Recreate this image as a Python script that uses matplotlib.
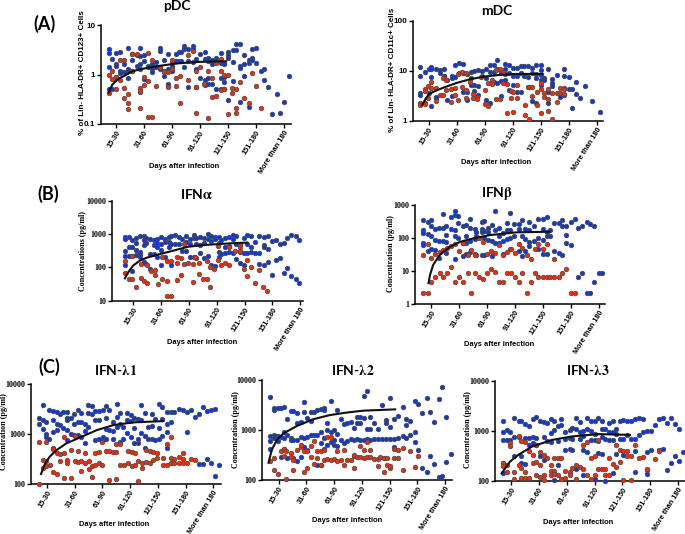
# -*- coding: utf-8 -*-

import matplotlib
matplotlib.use('Agg')
import matplotlib.pyplot as plt

plt.rcParams['mathtext.fontset'] = 'stix'

W, H = 685, 534

BLUE = '#1239cf'
RED = '#e5300f'
EDGE = '#4a4a4a'

x_ticks = [30, 60, 90, 120, 150, 180, 210]
x_labels = ['15-30', '31-60', '61-90', '91-120', '121-150', '151-180', 'More than 180']

# (day, [values of the dots in that column])
pdc_blue = [(22, [3.3, 2.7, 1.4, .5]), (26, [2.1, .5]), (30, [2.7, 1.6, 1.5, .9]), (34, [2.8, 1.15, 1.05]), (39, [1.1, 1.6]),
            (43, [3.4, 1.3, 1.2, .85]), (47, [2.6, 2, 1.2]), (52, [2.5, 1.5]), (56, [3.5, 2.4, 1.6, 1.3, .45]), (60, [2.5, 1.9, .8]),
            (64, [1.4, 1.5]), (69, [1.6, 1.3, 1.1]), (73, [1.8, 1.4]), (77, [3.4, 3, 1.3]), (81, [2, 1.2, .95]), (86, [2.6, 1.3, .65, .58]),
            (90, [1.2, 1.8, 1.5]), (94, [2.6, 1.9]), (98, [2.9, 1.9]), (100, [2.9, 1.9]), (103, [3.8, 3.2, 1.4]), (107, [3.2, 1.9, .56]),
            (112, [3.8, 3.2, 1.8]), (116, [2.1, 1.3, .56]), (120, [2.6, .84]), (125, [2.8, 2.1, .76, .6]), (129, [2.2, 1.9, .84, .65]),
            (133, [2, 1.6, .65]), (137, [2.2, 1.9, .52]), (142, [2.7, 2, 1.7, .85, .5]), (146, [1.7, 1.6, .72, .88, .5]), (150, [2.8, 2.5, 2.2, .31]),
            (155, [3.1, 1.8, .74]), (159, [4.2, 3.1]), (163, [4.2, 1.5, 1.34, .28]), (167, [2.5, 1.6, .94]), (172, [2, 1.7, .22]),
            (176, [3.2, 2.2, 2]), (180, [3.5, 1.7]), (185, [1.2]), (189, [1.3, .76]), (193, [.55]), (197, [.16]), (202, [.41]),
            (206, [.17]), (210, [.28]), (215, [.94])]
pdc_red = [(22, [.97, .43]), (26, [1.15, .8]), (30, [.88, .5]), (34, [2, .78]), (39, [2, .53, .33]), (43, [.4, .26, .2]), (47, [2.6, 1.2]),
           (52, [2.6]), (56, [.53, .47, .21]), (60, [.87, .6]), (64, [2.7, .75, .14]), (69, [2, .14]), (73, [.58]), (77, [1.4]), (81, [1.1]),
           (86, [1.1, .55]), (90, [2, 1.3]), (94, [.59, .85]), (99, [.94, .26]), (107, [2.5, .78]), (112, [3]), (116, [1.15, .55, .17]),
           (120, [1.45]), (124, [.65]), (129, [1.15, .13]), (133, [.84, .35]), (137, [1.7, .36]), (142, [2.1, 1.15, .48]), (146, [1, .5]),
           (150, [.98, .16]), (154, [.53, .42]), (159, [.5, .21, .17]), (163, [.69]), (167, [.34]), (172, [.26]), (176, [1.06]),
           (180, [.59]), (185, [.21])]
pdc_curve_day = [22, 26, 30, 34, 39, 47, 56, 64, 77, 90, 99, 120, 135, 148]
pdc_curve_val = [.43, .62, .74, .85, .94, 1.15, 1.28, 1.36, 1.5, 1.62, 1.7, 1.8, 1.83, 1.85]

mdc_blue = [(21, [12, 7.7, 3.6, 3.3]), (26, [9.6, 2.3]), (30, [10.8, 3.5]), (33, [12, 11, 7.6, 2]), (38, [11, 3, 2.9]), (42, [10.5, 9.2]),
            (46, [10.6, 8, 7.8]), (50, [6.6, 2.6]), (55, [7.8, 7, 3.1]), (58, [13, 7.5]), (62, [14.5, 9]), (67, [13.5, 3.7, 9.2]), (71, [8.5, 3.7, 2.6]),
            (75, [9.5, 7, 5.2]), (79, [10, 5.2, 4]), (83, [10.3, 5, 3.2]), (87, [10, 8]), (91, [11, 7, 2.6]), (96, [13, 9.5, 2.3]), (100, [13, 9.6, 6]),
            (103, [16.5, 11, 5.7]), (107, [9.5, 6.2, 3.1]), (112, [13.5, 11, 8.6, 6.5]), (116, [13, 9, 4.1]), (120, [11.5, 8, 5.2]), (125, [11.5, 8, 3.8]),
            (129, [12.5, 9, 3.7]), (132, [12.5, 8]), (136, [12.5, 7.5, 4.8]), (141, [11.5, 9, 2.5]), (145, [13, 8.5, 7.3, 2.3]),
            (150, [13, 10.3, 8.3, 6.5, 5.2]), (154, [7, 6.5]), (158, [10.6, 3.8, 2.3]), (162.5, [6.8, 5.6, 5]), (167, [8.3]), (171, [3]),
            (175, [10.6, 7.7, 4.6, 3.3]), (180, [7.4, 4.4]), (184, [4.4, 1.8]), (188, [6, 3.4]), (192.5, [2.8]), (197, [4.9]), (205, [2.5]), (213.5, [1.5])]
mdc_red = [(21, [2.3, 2.1]), (26, [4.4, 4, 2.2]), (29.5, [5, 2.9]), (33, [6, 4.6]), (38, [4.6, 2.5]), (42, [3.3]), (45, [7.2, 3.3]), (49, [6.6, 4.2]),
           (54, [4.3, 2.4]), (58, [4.5, 3.3]), (61, [8.5, 2.6]), (66, [9.6, 4.7]), (70, [8.8, 4.1, 2.8]), (74, [6]), (77, [3.4, 2.9]), (82, [3, 2.7]),
           (86, [7.5]), (90, [4.2, 2.2]), (94, [5.7, 2]), (98, [6.5, 5.3]), (102, [10.5, 2.7]), (106, [11, 2.7]), (110, [9.6, 5.7]), (114, [5.5, 1.4]),
           (118, [3.9, 2.9]), (120, [1.5, 3.7]), (125, [5.2, 2.8]), (133, [2.05, 1.3]), (137, [4.7, 1.1]), (141, [4.8, 3.1]), (146, [3.8, 2.05]),
           (150, [5.7, 4.4, 1.45]), (154, [3.5, 3]), (158, [4.4, 2.7, 1.55]), (162.5, [3.6, 1.1]), (167, [3.6, 2.4]), (171, [3.6, 4.5]), (175, [4.4, 3.4])]
mdc_curve_day = [23, 27, 31, 38, 46, 60, 75, 89, 105, 121, 152]
mdc_curve_val = [2.05, 2.8, 3.5, 4.0, 4.6, 5.7, 6.8, 7.6, 8.2, 8.6, 8.6]

alpha_blue = [(21, [800, 720, 320, 215, 115]), (25.5, [850, 420, 220]), (29, [650, 400, 220, 80]), (33, [750, 560, 330, 230]), (37, [870, 300, 250, 200]),
              (41, [880, 650, 480, 150]), (44, [780, 560, 130]), (48, [700, 260, 92]), (52.5, [650, 480, 250]), (56, [700, 530, 410, 210]),
              (60, [840, 520, 330, 120]), (64, [740, 580, 210]), (68, [850, 590, 400]), (71, [870, 520, 120]), (75, [940, 500]), (79.5, [800, 520]),
              (83, [700, 310]), (87, [880, 600, 320]), (91, [700, 500, 210]), (95, [920, 780, 210]), (98, [780, 500, 190]), (102, [800, 480, 280]),
              (106.5, [780, 560, 190]), (110, [1000, 700, 220]), (114, [900, 620, 120]), (118, [850, 700, 110]), (122, [850, 540, 300, 210]),
              (125, [650, 250]), (129, [760, 410, 280]), (133.5, [830, 450, 290]), (137, [930, 700, 280]), (141, [870, 500, 180]), (145, [520, 300, 140]),
              (149, [750, 280, 115]), (153, [960, 500, 270]), (157, [880, 400, 290]), (161, [600, 280]), (166, [900, 265, 125]), (171, [800, 470, 420, 120]),
              (175, [880, 360, 150]), (179, [620, 60]), (184, [650, 170]), (188, [500, 195]), (192, [530, 70]), (196, [770, 97]), (200, [970, 54]),
              (205, [880, 45]), (209, [690, 33])]
alpha_red = [(21, [160, 70]), (25.6, [44]), (29, [220, 44]), (33, [26]), (38, [125, 48]), (41.5, [38]), (45, [115, 33]), (49, [80]), (53.5, [85, 58]),
             (57, [32]), (61, [210, 44]), (66, [40]), (66.5, [14, 155]), (71, [14, 155]), (77, [200, 140, 42]), (81.5, [195, 58]), (85, [520, 130]), (89, [140]),
             (94, [130, 37]), (97, [210]), (101, [135, 62]), (105, [44]), (109, [160, 44]), (113, [105, 26]), (117, [88]), (121, [165, 440]), (125, [115]),
             (129, [140]), (133, [115, 420]), (140, [310]), (145, [310, 400, 500]), (149, [88]), (153, [165, 57]), (157, [105]), (161, [35]), (166, [85]),
             (170, [26]), (174.6, [19])]
alpha_curve_day = [21, 25, 30, 37, 44, 58, 72, 89, 105, 119, 136, 153]
alpha_curve_val = [47, 75, 115, 160, 195, 250, 315, 420, 470, 500, 535, 560]

beta_blue = [(21, [340, 175, 140, 70, 60]), (26, [300, 130, 40]), (30, [340, 220, 110, 45]), (34, [180, 85, 42]), (38, [200, 80, 24]), (43, [530, 200, 80]),
             (46, [220, 120, 75, 35]), (51, [420, 190]), (56, [650, 500, 170, 110, 22]), (59, [440, 270, 100]), (64, [230, 70, 27]), (67, [250, 110, 70, 33]),
             (72, [380, 200, 80, 36]), (77, [190, 90, 33]), (78, [150, 110, 30]), (84, [290, 190, 150, 30]), (87, [320, 160, 100, 30]), (91, [200, 150, 85]),
             (95, [240, 80, 27]), (98, [630, 170, 70]), (103, [110, 200, 70]), (107, [140, 80, 32]), (111, [280, 170, 90]), (115, [550, 170, 100, 45]),
             (119, [260, 110]), (124, [260, 190, 40]), (127, [340, 110, 28]), (131, [190, 90, 40]), (135, [300, 170, 75, 55]), (140, [230, 80]),
             (145, [360, 100, 45]), (150, [360, 190, 85, 32]), (154, [430, 150, 115, 31]), (158, [170, 110]), (162, [270, 40]), (167, [270, 34]),
             (171, [350, 230, 30]), (175, [230, 125, 70]), (180, [300, 60]), (184, [360]), (188, [200, 6.5]), (192, [230, 8.7]), (197, [300, 2.1]),
             (201, [260, 2.1]), (205, [230, 4.4]), (210, [8.7]), (214, [8.7])]
beta_red = [(21, [30, 2.1]), (26, [65, 2.1]), (30, [25, 4.4]), (34, [33, 6.5]), (39, [36, 8.7]), (43, [42, 6.5]), (47, [48, 8.7]), (51, [55, 13]), (56, [65, 4.4]),
            (60, [40, 6.5]), (64, [70, 4.4]), (69, [30, 8.7]), (73, [2.1, 42]), (77, [8.7, 30]), (81, [95, 6.5]), (86, [75, 5.5]), (90, [33, 8.7]), (94, [40, 11]),
            (99, [9, 35]), (103, [60, 4.4]), (107, [30, 4.4]), (111, [8.7, 38]), (116, [45, 8.7]), (120, [35, 6.5]), (124, [65, 4.4]), (128, [48, 8.7]),
            (132.5, [30, 2.1]), (137, [22, 4.4]), (141, [45, 8.7]), (145, [65, 6.5]), (150, [45, 6.5]), (154, [65, 6.5]), (158, [6.5]), (162, [22, 6.5]),
            (167, [6.5]), (171, [8.7]), (175, [11]), (180, [2.1]), (184, [2.1])]
beta_curve_day = [27, 28.6, 32, 39, 50, 61, 75, 93, 121, 157]
beta_curve_val = [4.2, 7.4, 15, 30, 53, 75, 95, 120, 145, 152]

l1_blue = [(21, [2050, 1550]), (25.5, [1900, 1250, 3800]), (29, [1000, 850, 1750]), (32.6, [3000, 800]), (37, [2850, 1900, 520, 1100]), (40.6, [2700, 1600, 1200]),
           (44, [2500, 1500]), (47.7, [2700, 1300]), (52, [2800, 2100, 1900, 1200, 750]), (55.7, [2050, 1000]), (59, [2500, 1550, 950]), (64, [3000, 1700, 950]),
           (67, [2600, 1700, 850]), (71, [1550, 1150, 650]), (74.4, [3800, 2600, 1400]), (79, [3700, 2500]), (82.4, [2900, 1900, 750]), (86, [2900, 1900, 800]),
           (90.4, [3000, 850, 750]), (94, [3600, 2050, 1250, 800]), (97.5, [3000, 1200]), (101, [1750, 1150, 800]), (105.5, [3900, 2150, 1350]), (109, [2600, 1600, 700]),
           (112.7, [1350, 800]), (117, [2650, 1900, 1050]), (121, [2350, 1800, 850]), (124, [2100, 1300, 650]), (128, [2000, 800, 650]), (132, [3800, 1900, 1050]),
           (136, [2600, 900, 520]), (139, [1400, 800]), (144, [2500, 1450, 800]), (147, [2000, 750]), (151, [4000, 1300, 800]), (154.5, [3500, 2000, 900]),
           (160, [2700, 1600, 1100, 510]), (164, [2750, 1750]), (168, [2700]), (173, [3100]), (177, [3000]), (181, [2800, 1070]), (186, [3000]), (190, [2200]),
           (194, [2500, 245]), (199, [3500, 250]), (203, [2900, 320]), (207, [3000, 255]), (212, [3150, 145]), (216, [235])]
l1_red = [(21, [100, 680]), (25.5, [300, 210]), (29, [280, 230, 690]), (33, [240]), (37, [170, 500]), (41, [155, 410]), (44, [390, 280]), (48, [130, 410, 860]),
          (52, [300, 260]), (56, [130, 480]), (60, [280, 890]), (64, [450, 270]), (67, [180, 280]), (71, [410, 260]), (75, [200, 290]), (79, [135, 230]), (82, [420, 240]),
          (86, [430, 260]), (90, [700, 240]), (94, [460]), (97, [120, 450]), (101, [430]), (105, [125, 430, 640]), (109, [240, 620]), (113, [240]), (118, [450, 260]),
          (122, [430, 230]), (125, [420, 240]), (129, [115, 280]), (133, [210, 260]), (137, [480, 270]), (141, [450, 260]), (145, [430, 300]), (149, [410, 330]),
          (156, [330, 240]), (160, [640, 240]), (164, [850, 330, 260]), (168, [320, 255]), (173, [345, 265]), (177, [405, 320, 265]), (181, [255]), (186, [320]), (190, [300])]
l1_curve_day = [23.5, 28, 33, 40.5, 51, 66, 84, 102, 123.5, 156]
l1_curve_val = [156, 255, 350, 475, 645, 850, 1190, 1500, 1700, 1800]

l2_blue = [(21, [4600, 760, 600, 410]), (25, [2500, 2750, 780, 700]), (29, [2800, 750, 600]), (32, [2800, 720, 290]), (36, [2850, 900, 700, 410]), (39, [1650, 780, 270]),
           (43, [2400, 680, 640]), (46, [2450, 620, 270]), (50, [2200, 1400, 620, 240]), (54, [1450, 730, 280]), (57, [3600, 2250, 680, 460]), (61, [1750, 720, 390]),
           (65, [2350, 1500, 780]), (68, [2250, 790]), (71, [2500, 800, 200]), (76, [2700, 900, 550, 200]), (79, [2750, 2550, 700, 420]), (82, [1400, 1000, 500]),
           (87, [3800, 900, 580]), (90, [1000, 640, 500]), (93, [2500, 850, 470]), (97, [1650, 620]), (101, [1300, 550]), (104, [1400, 590]), (108, [1450, 650]),
           (112, [1100, 620, 300]), (115, [1850, 1400, 650]), (118, [1850, 1400, 640]), (122, [1750, 4900, 620]), (126, [6200, 1050, 650]), (129, [1800, 1050, 640]),
           (133, [1400, 650]), (137, [1050, 650]), (142, [3200, 650]), (146, [1600, 1400, 650]), (150.6, [4500, 1130, 650]), (155, [1700, 650, 450]), (159, [1900, 680]),
           (164, [2950, 750]), (168, [1650, 1250, 700]), (172, [1500, 800]), (177, [3900, 920, 580]), (181, [3400, 390]), (185, [2200, 170]), (190, [4400, 145]),
           (194, [2300, 300]), (198, [1450, 210]), (203, [4300, 113]), (207, [7400, 118]), (211, [1800, 230]), (216, [325])]
l2_red = [(21, [240]), (25, [160, 270]), (29, [130]), (32, [370]), (36, [300, 420]), (38, [103, 380]), (43, [280, 340]), (46, [160, 250]), (50, [400]), (54, [450, 490]),
          (57, [140, 380]), (61, [170, 380]), (65, [480, 280]), (68, [610, 210]), (71, [270, 380]), (76, [200, 380]), (79, [250, 400]), (82, [720, 260]), (87, [720, 250]),
          (90, [260]), (93, [240, 380]), (97, [250]), (101, [200, 400]), (104, [250]), (108, [250]), (112, [320, 170]), (115, [280]), (118, [280, 480]), (122, [270, 390]),
          (126, [280, 570]), (129, [280, 390]), (133, [260]), (137, [190, 260]), (140, [280]), (144, [145, 270]), (147, [200, 270]), (151, [170, 190]), (155, [270, 420]),
          (159, [270, 390]), (164, [155, 430]), (172, [370]), (177, [180]), (181, [300])]
l2_curve_day = [19, 22.5, 28, 35, 49.5, 67.5, 85.6, 104, 121.7, 156]
l2_curve_val = [220, 400, 630, 850, 1200, 1650, 2000, 2250, 2450, 2600]

l3_blue = [(21, [1550, 930, 650, 230, 145]), (25.6, [1050, 650]), (29, [950, 650]), (33, [1850, 750, 320]), (38, [1600, 770]), (41, [1600, 320, 230]), (45, [1350, 730, 220]),
           (49, [1250, 730, 510]), (53, [1750, 750, 560]), (57, [1900, 720, 510]), (61, [1550, 320]), (65, [1500, 760, 260]), (69, [1450, 630]), (73, [1700, 900, 610]),
           (76, [1550, 1050, 105]), (81, [1250, 640, 210]), (84, [1300, 1750]), (88, [950, 690, 410]), (93, [1050, 730, 440]), (96, [1150, 700, 410]), (100, [1850, 1100, 170]),
           (104, [1500, 950, 700]), (108, [1000, 780, 130, 420]), (112, [1850, 1100, 380]), (116, [1600, 1000, 660]), (120, [1550, 870, 660, 110]), (124, [1800, 620, 360]),
           (128, [1600, 1100, 760, 340]), (131.5, [1100, 700, 100]), (136, [1450, 950, 660]), (140, [1550, 950, 660, 140]), (143, [1100, 850, 340]), (148, [1600, 700]),
           (151, [1650, 700, 330]), (155, [1600, 830]), (159.6, [1550, 700]), (164, [1750, 700, 400, 150]), (168, [1850, 830]), (172.6, [1750, 970]), (177, [1000, 385, 135]),
           (181, [1000, 410]), (185.6, [1300]), (190, [1750, 410]), (194, [1800, 425]), (198.6, [1420, 165]), (203, [1800, 230]), (207, [1400, 320]), (211.6, [1090, 250]), (216, [370])]
l3_red = [(21, [230, 200]), (25.6, [210, 150]), (29, [570, 490]), (33, [110, 150]), (38, [780, 210]), (41, [620, 180, 115]), (45, [610, 150, 112]), (49, [115, 390]),
          (53, [330, 230]), (57, [510, 240, 130]), (61, [380, 210, 120]), (65, [330, 130, 105]), (69, [280]), (73, [210, 160, 130]), (76, [280, 160, 135]), (81, [280, 130]),
          (84, [280, 110]), (88, [160, 115]), (93, [150, 130]), (96, [180]), (100, [210, 110]), (104, [190]), (108, [510, 170]), (112, [610, 130]), (116, [280, 110]),
          (120, [310, 130]), (124, [670, 170]), (128, [170]), (131.5, [175, 130]), (136, [280, 130]), (140, [220]), (143, [520, 190]), (148, [410, 240]), (151, [390, 105]),
          (155, [390, 310]), (160, [310, 105]), (164, [520]), (168, [280]), (172.6, [300]), (177, [165, 175]), (185.6, [270]), (190, [400])]
l3_curve_day = [19.5, 28.5, 37.6, 52, 73.7, 95, 124, 158.5]
l3_curve_val = [140, 240, 330, 480, 655, 770, 860, 830]

# left, tick 30 days, tick 210 days, right, top, bottom in pixels
panels = [
    dict(box=(101, 116, 284, 291, 25, 124), ylim=(.1, 10), yticks=[.1, 1, 10], ylabs=['0.1', '1', '10'],
         blue=pdc_blue, red=pdc_red, cx=pdc_curve_day, cy=pdc_curve_val, serif=False,
         ylabel='% of Lin- HLA-DR+ CD123+ Cells', ypos=(83, 73), title='pDC', tpos=(177, 6), xpos=(184, 166)),
    dict(box=(412.7, 428.7, 596.7, 602.7, 20.7, 120.7), ylim=(1, 100), yticks=[1, 10, 100], ylabs=['1', '10', '100'],
         blue=mdc_blue, red=mdc_red, cx=mdc_curve_day, cy=mdc_curve_val, serif=False,
         ylabel='% of Lin- HLA-DR+ CD11c+ Cells', ypos=(393, 70), title='mDC', tpos=(497, 11), xpos=(496, 162)),
    dict(box=(111.7, 133.3, 300.3, 302.7, 201, 300.7), ylim=(10, 10000), yticks=[10, 100, 1000, 10000], ylabs=['10', '100', '1000', '10000'],
         blue=alpha_blue, red=alpha_red, cx=alpha_curve_day, cy=alpha_curve_val, serif=True,
         ylabel='Concentrations (pg/ml)', ypos=(83, 251), title=r'IFN$\mathbf{\alpha}$', tpos=(197, 194), xpos=(202, 343)),
    dict(box=(415.3, 431.3, 598.7, 605, 204.7, 303.7), ylim=(1, 1000), yticks=[1, 10, 100, 1000], ylabs=['1', '10', '100', '1000'],
         blue=beta_blue, red=beta_red, cx=beta_curve_day, cy=beta_curve_val, serif=True,
         ylabel='Concentration (pg/ml)', ypos=(391, 254), title=r'IFN$\mathbf{\beta}$', tpos=(497, 194), xpos=(499, 344)),
    dict(box=(31, 47, 213.3, 220.7, 384, 483.7), ylim=(100, 10000), yticks=[100, 1000, 10000], ylabs=['100', '1000', '10000'],
         blue=l1_blue, red=l1_red, cx=l1_curve_day, cy=l1_curve_val, serif=True,
         ylabel='Concentration (pg/ml)', ypos=(4, 432), title=r'IFN-$\mathbf{\lambda 1}$', tpos=(116, 370), xpos=(114, 525)),
    dict(box=(261.7, 278.7, 445, 452.3, 380.3, 479.7), ylim=(100, 10000), yticks=[100, 1000, 10000], ylabs=['100', '1000', '10000'],
         blue=l2_blue, red=l2_red, cx=l2_curve_day, cy=l2_curve_val, serif=True,
         ylabel='Concentration (pg/ml)', ypos=(236, 430), title=r'IFN-$\mathbf{\lambda 2}$', tpos=(353, 370), xpos=(347, 521)),
    dict(box=(495.3, 511.3, 677.7, 685, 381, 480.7), ylim=(100, 10000), yticks=[100, 1000, 10000], ylabs=['100', '1000', '10000'],
         blue=l3_blue, red=l3_red, cx=l3_curve_day, cy=l3_curve_val, serif=True,
         ylabel='Concentration (pg/ml)', ypos=(468, 430), title=r'IFN-$\mathbf{\lambda 3}$', tpos=(588, 370), xpos=(578, 522)),
]

section_labels = [('(A)', 45, 24), ('(B)', 48, 194), ('(C)', 49, 367)]


def flatten(columns):
    days = [day for day, vals in columns for _ in vals]
    vals = [v for _, col in columns for v in col]
    return days, vals


def fig_text(fig, px, py, s, **kwargs):
    fig.text(px / W, 1 - py / H, s, ha='center', va='center', **kwargs)


def draw_panel(fig, p):
    left, t30, t210, right, top, bottom = p['box']
    ax = fig.add_axes([left / W, 1 - bottom / H, (right - left) / W, (bottom - top) / H])

    # x axis goes by days, 180 days between first and last tick
    per_day = (t210 - t30) / 180
    ax.set_xlim(30 - (t30 - left) / per_day, 30 + (right - t30) / per_day)
    ax.set_yscale('log')
    ax.set_ylim(*p['ylim'])

    bx, by = flatten(p['blue'])
    rx, ry = flatten(p['red'])
    ax.scatter(bx, by, s=11, c=BLUE, edgecolors=EDGE, linewidths=.5, clip_on=False, zorder=3)
    ax.scatter(rx, ry, s=11, c=RED, edgecolors=EDGE, linewidths=.5, clip_on=False, zorder=4)
    ax.plot(p['cx'], p['cy'], color='#111111', lw=1.5, zorder=5)

    for side in ['top', 'right']:
        ax.spines[side].set_visible(False)
    for side in ['left', 'bottom']:
        ax.spines[side].set_linewidth(1.1)

    ylab_font = 'Liberation Serif' if p['serif'] else 'Liberation Sans'
    ax.set_yticks(p['yticks'])
    ax.set_yticklabels(p['ylabs'], fontsize=5.8, fontweight='bold', family=ylab_font)
    ax.minorticks_off()
    ax.set_xticks(x_ticks)
    ax.set_xticklabels(x_labels, rotation=58, ha='right', rotation_mode='anchor',
                       fontsize=5.3, fontweight='bold', family='Liberation Sans')
    ax.tick_params(axis='both', length=3, width=1.0, pad=1)

    fig_text(fig, p['ypos'][0], p['ypos'][1], p['ylabel'], rotation=90, fontsize=5.8, fontweight='bold', family=ylab_font)
    fig_text(fig, p['xpos'][0], p['xpos'][1], 'Days after infection', fontsize=5.4, fontweight='bold', family='Liberation Sans')
    fig_text(fig, p['tpos'][0], p['tpos'][1], p['title'], fontsize=10, fontweight='bold', family='Lato')


def main():
    fig = plt.figure(figsize=(W / 100, H / 100), dpi=100)
    for p in panels:
        draw_panel(fig, p)
    for s, px, py in section_labels:
        fig_text(fig, px, py, s, fontsize=13, fontweight='bold', family='Lato')
    fig.savefig('out.png', dpi=100)


if __name__ == '__main__':
    main()
